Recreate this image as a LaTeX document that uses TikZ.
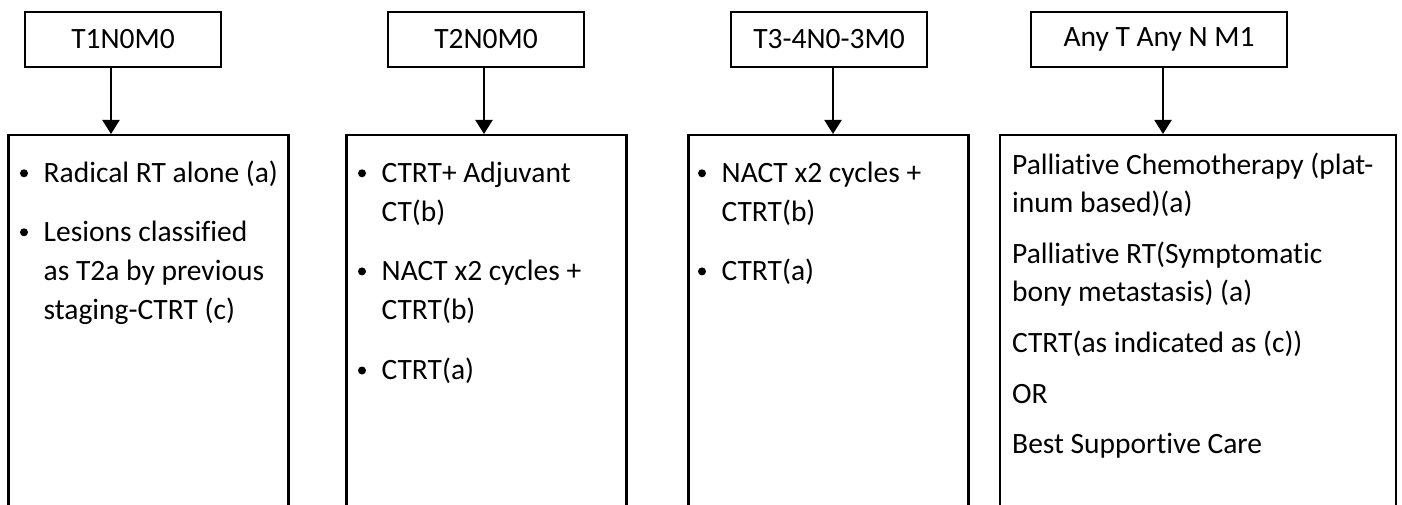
\documentclass[tikz,border=0pt]{standalone}
\usepackage{fontspec}
\setmainfont{Carlito}[Ligatures=NoCommon]
\usetikzlibrary{arrows.meta}
\begin{document}
\begin{tikzpicture}[x=1pt,y=-1pt,
  topbox/.style={draw, line width=2pt, minimum height=55pt, inner sep=0pt,
                 font=\fontsize{29.5}{34}\selectfont},
  lowbox/.style={draw, line width=2.2pt, anchor=north, inner sep=0pt, minimum height=420pt},
  txt/.style={anchor=base west, inner sep=0pt, font=\fontsize{29.5}{34}\selectfont},
  dot/.style={circle, fill, inner sep=0pt, minimum size=8pt},
  arr/.style={line width=2pt, -{Triangle[width=17pt,length=14pt]}}]
\useasboundingbox (0,0) rectangle (1402,505);
\clip (0,0) rectangle (1402,505);

% top boxes
\node[topbox, minimum width=196pt] (t1) at (123,39.5) {T1N0M0};
\node[topbox, minimum width=196pt] (t2) at (486,39.5) {T2N0M0};
\node[topbox, minimum width=196pt] (t3) at (829,39.5) {T3-4N0-3M0};
\node[topbox, minimum width=256pt] (t4) at (1159,39.5) {Any T Any N M1};

% lower boxes (open at the bottom: they run past the frame)
\node[lowbox, minimum width=280pt] (b1) at (148.5,134) {};
\node[lowbox, minimum width=280pt] (b2) at (486.5,134) {};
\node[lowbox, minimum width=280pt] (b3) at (828.5,134) {};
\node[lowbox, minimum width=396pt] (b4) at (1198,134) {};

% connectors
\draw[arr] ([xshift=-12pt]t1.south) -- ([xshift=-12pt]t1.south |- b1.north);
\draw[arr] ([xshift=-2pt]t2.south) -- ([xshift=-2pt]t2.south |- b2.north);
\draw[arr] ([xshift=4pt]t3.south) -- ([xshift=4pt]t3.south |- b3.north);
\draw[arr] ([xshift=4pt]t4.south) -- ([xshift=4pt]t4.south |- b4.north);

% box 1
\node[dot] (p11) at (24,173.3) {};
\node[txt] (l11) at (43.5,182.7) {Radical RT alone (a)};
\node[dot] (p12) at (24,232.3) {};
\node[txt] (l12) at (43.5,241.7) {Lesions classified};
\node[txt] (l13) at (43.5,280.8) {as T2a by previous};
\node[txt] (l14) at (43.5,319.9) {staging-CTRT (c)};

% box 2
\node[dot] (p21) at (362,173.3) {};
\node[txt] (l21) at (381.5,182.7) {CTRT+ Adjuvant};
\node[txt] (l22) at (381.5,221.8) {CT(b)};
\node[dot] (p22) at (362,271.4) {};
\node[txt] (l23) at (381.5,280.8) {NACT x2 cycles +};
\node[txt] (l24) at (381.5,319.9) {CTRT(b)};
\node[dot] (p23) at (362,370.5) {};
\node[txt] (l25) at (381.5,379.9) {CTRT(a)};

% box 3
\node[dot] (p31) at (702,173.3) {};
\node[txt] (l31) at (721.5,182.7) {NACT x2 cycles +};
\node[txt] (l32) at (721.5,221.8) {CTRT(b)};
\node[dot] (p32) at (702,271.4) {};
\node[txt] (l33) at (721.5,280.8) {CTRT(a)};

% box 4
\node[txt] (l41) at (1012,174.3) {Palliative Chemotherapy (plat-};
\node[txt] (l42) at (1012,212.7) {inum based)(a)};
\node[txt] (l43) at (1012,263.3) {Palliative RT(Symptomatic};
\node[txt] (l44) at (1012,301.7) {bony metastasis) (a)};
\node[txt] (l45) at (1012,352.5) {CTRT(as indicated as (c))};
\node[txt] (l46) at (1012,403.2) {OR};
\node[txt] (l47) at (1012,453.9) {Best Supportive Care};
\end{tikzpicture}
\end{document}
